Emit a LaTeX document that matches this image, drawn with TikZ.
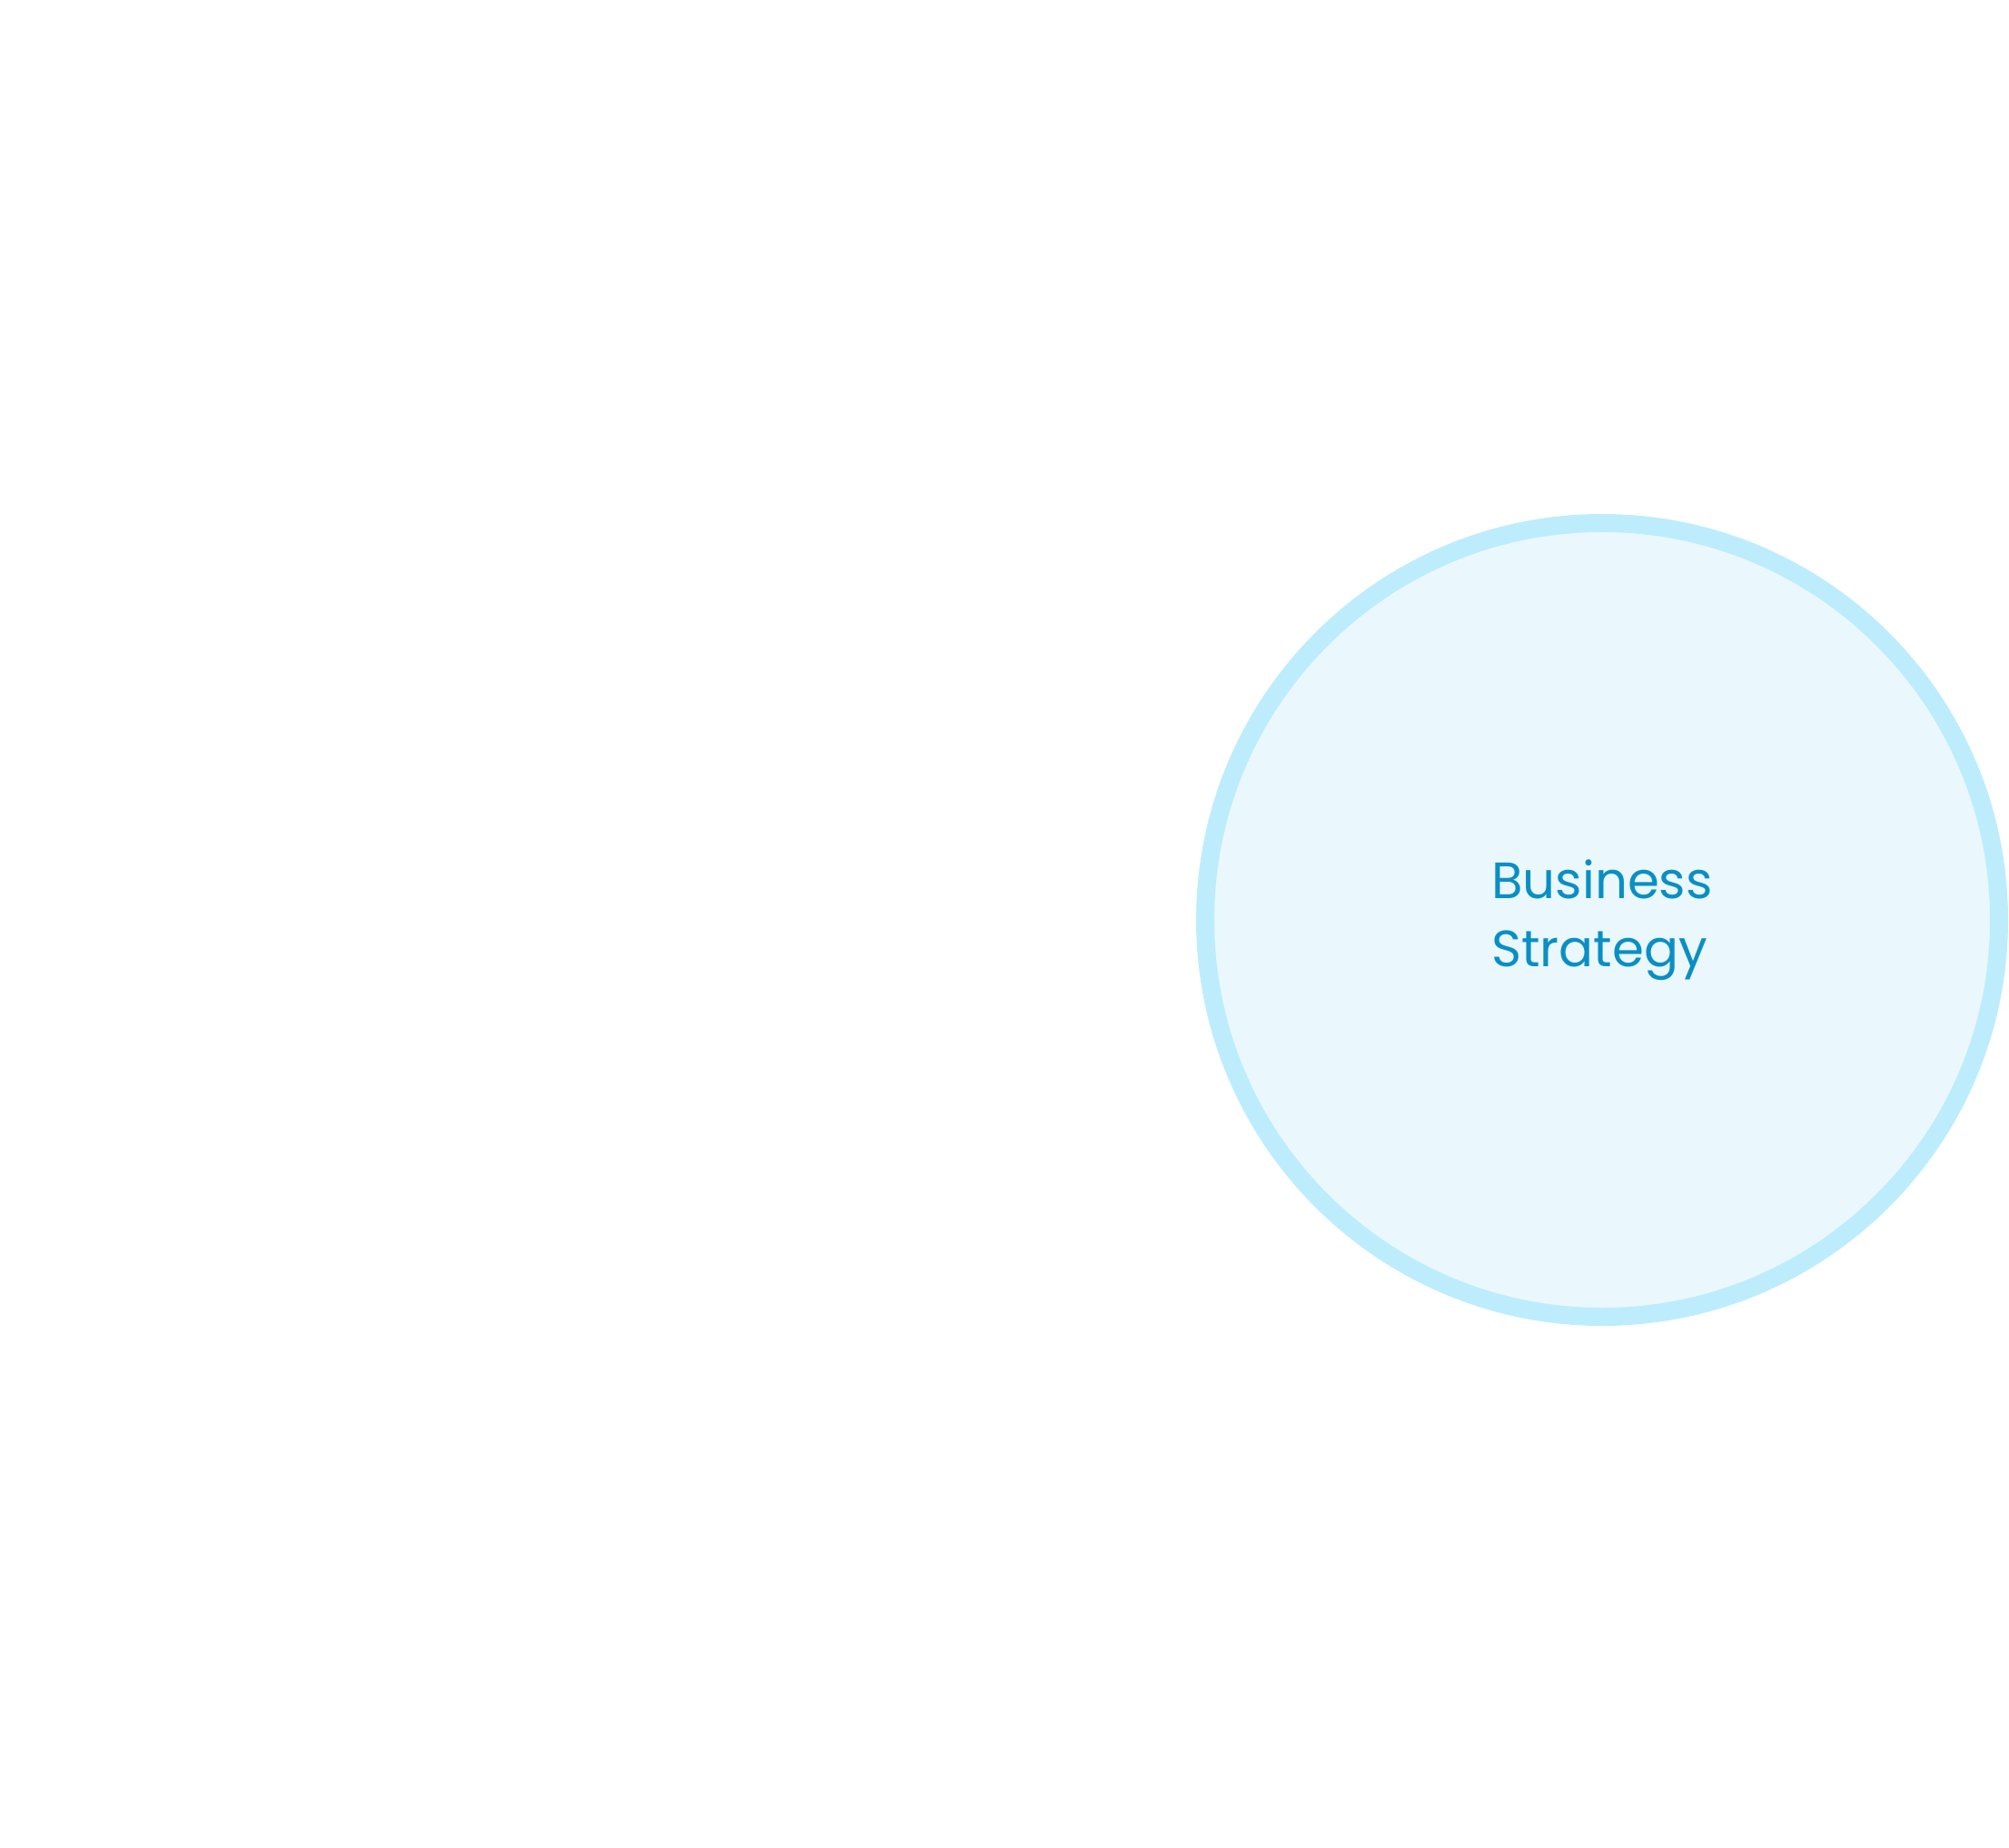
\documentclass[tikz,border=0pt]{standalone}
\usepackage{fontspec}
\setmainfont{Poppins}
\definecolor{ringblue}{HTML}{BDEDFD}
\definecolor{fillblue}{HTML}{EAF8FE}
\definecolor{textblue}{HTML}{0A8FC4}
\tikzset{
  bubble/.style={circle, draw=ringblue, fill=fillblue, line width=0.2cm, minimum size=8.74cm, inner sep=0pt},
  bubbletext/.style={text=textblue, align=left, font=\fontsize{16}{21.5}\selectfont}
}
\begin{document}
\begin{tikzpicture}
  \useasboundingbox (0,0) rectangle (22.12,20.34);
  % strategy circle
  \node[bubble] (strategy) at (17.64,10.21) {};
  \node[bubbletext] (strategylabel) at (strategy.center) {Business\\Strategy};
\end{tikzpicture}
\end{document}
